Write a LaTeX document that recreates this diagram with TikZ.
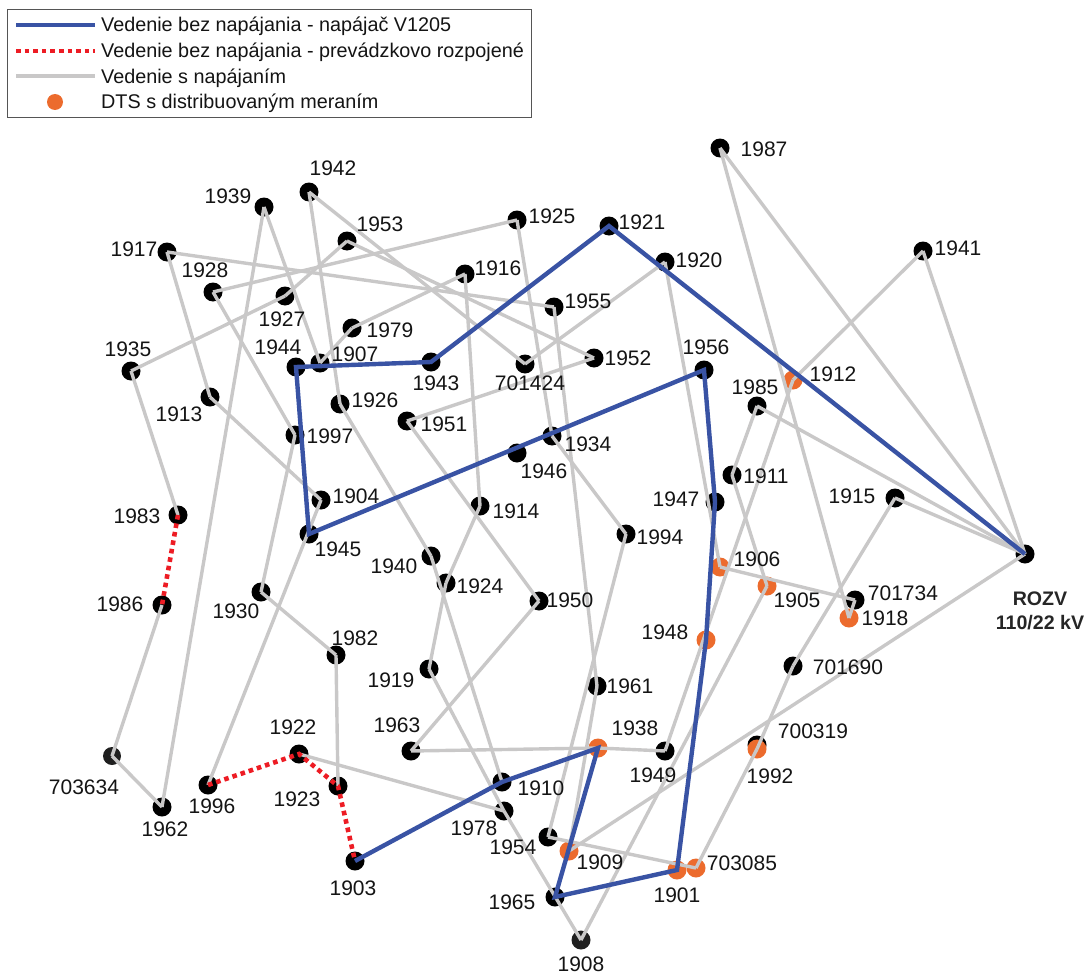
\documentclass[tikz,border=0pt]{standalone}
\usepackage{fontspec}
\setmainfont{Liberation Sans}
\definecolor{feed}{HTML}{3953A4}
\definecolor{open}{HTML}{ED1C24}
\definecolor{live}{HTML}{C9C8C8}
\definecolor{dts}{HTML}{EC6B2D}
\definecolor{frame}{HTML}{555555}
\tikzset{
  dot/.style={circle,fill=black,inner sep=0pt,minimum size=19pt},
  dotdark/.style={dot,fill=black!88},
  dtsdot/.style={dot,fill=dts},
  lab/.style={inner sep=0pt,font=\fontsize{21}{21}\selectfont,text=black!92},
  leg/.style={inner sep=0pt,anchor=west,font=\fontsize{19.8}{20}\selectfont,text=black!92},
  sub/.style={inner sep=0pt,font=\bfseries\fontsize{19.6}{20}\selectfont,text=black!85},
  liveline/.style={draw=live,line width=3.4pt,line join=miter},
  feedline/.style={draw=feed,line width=4.4pt,line join=miter},
  openline/.style={draw=open,line width=4.6pt,dash pattern=on 4.6pt off 4pt},
}
\begin{document}
\begin{tikzpicture}[x=1pt,y=-1pt]
\useasboundingbox (0,0) rectangle (1085,974);
% legend
\node[draw=frame,line width=1.3pt,minimum width=524pt,minimum height=108pt,inner sep=0pt,anchor=north west] (box) at (7,9) {};
\coordinate (k1a) at (16,25); \coordinate (k1b) at (95,25);
\coordinate (k2a) at (16,51); \coordinate (k2b) at (95,51);
\coordinate (k3a) at (16,76); \coordinate (k3b) at (95,76);
\draw[feedline] (k1a) -- (k1b);
\draw[openline] (k2a) -- (k2b);
\draw[liveline] (k3a) -- (k3b);
\node[circle,fill=dts,inner sep=0pt,minimum size=16pt] (k4) at (55,102) {};
\node[leg] (t1) at (101,26) {Vedenie bez napájania - napájač V1205};
\node[leg] (t2) at (101,52) {Vedenie bez napájania - prevádzkovo rozpojené};
\node[leg] (t3) at (101,78) {Vedenie s napájaním};
\node[leg] (t4) at (101,103) {DTS s distribuovaným meraním};
% black nodes
\foreach \id/\x/\y in {1987/720/148,1942/309/192,1939/264/207,1953/347/241,1917/167/252,1928/213/292,1927/285/296,1979/352/328,1907/320/363,1944/296/367,1943/431/362,1935/131/371,1913/210/397,1926/340/404,1951/407/421,1997/295/435,1925/517/220,1921/609/226,1920/665/262,1916/465/274,1955/554/307,1952/594/358,701424/525/364,1956/704/370,1985/757/406,1934/552/436,1946/517/453,1911/732/475,1947/715/502,1915/895/498,1941/923/251,1914/480/506,1904/321/500,1945/309/534,1983/178/515,1994/626/534,1940/431/556,1924/446/583,1930/261/592,rozv/1025/554,701734/855/600,1950/539/601,1986/162/605,1982/336/655,1919/429/669,701690/793/666,1961/597/686,1963/411/751,1922/299/754,1949/665/751,700319/757/745,1910/502/782,1923/338/786,1996/208/785,1962/162/807,1978/504/811,1954/548/837,1903/355/861,1965/555/897}
  \node[dot] (n\id) at (\x,\y) {};
\node[dotdark,minimum size=18pt] (n703634) at (112,756) {};
\node[dotdark] (n1908) at (581,940) {};
% orange nodes
\foreach \id/\x/\y in {1912/793/380,1906/720/567,1905/767/586,1918/849/618,1948/706/640,1938/598/748,1992/757/749,1909/569/851,1901/677/870,703085/696/868}
  \node[dtsdot] (n\id) at (\x,\y) {};
% live lines
\foreach \a/\b in {1942/1926,1926/1940,1940/1910,1942/701424,1939/1962,1939/1907,1953/1952,1953/1927,1927/1935,1917/1955,1917/1913,1913/1904,1928/1925,1928/1997,1997/1930,1907/1979,1979/1916,1935/1983,1986/703634,703634/1962,1930/1982,1982/1923,1904/1996,1925/1934,1934/1994,1994/1954,1955/1961,1961/1909,1920/701424,1920/1906,1952/1951,1951/1950,1916/1914,1914/1924,1924/1919,1919/1978,1978/1908,1950/1963,1963/1938,1938/1949,1949/1912,1912/1941,1941/rozv,1987/rozv,1987/1918,1985/rozv,1985/1911,1911/1905,1905/1908,1906/701734,701734/1918,1915/rozv,1915/701690,701690/1992,1992/703085,rozv/1909,1954/703085,1922/1978}
  \draw[liveline] (n\a.center) -- (n\b.center);
% feeder
\draw[feedline] (n1903.center) -- (n1910.center) -- (n1938.center) -- (n1965.center) -- (n1901.center) -- (n1948.center) -- (n1947.center) -- (n1956.center) -- (n1945.center) -- (n1944.center) -- (n1943.center) -- (n1921.center) -- (nrozv.center);
% open lines
\draw[openline] (n1996.center) -- (n1922.center) -- (n1923.center) -- (n1903.center);
\draw[openline] (n1983.center) -- (n1986.center);
% labels
\foreach \id/\x/\y in {1987/764/149,1942/333/168,1939/228/196,1953/380/224,1917/134/249,1928/205/270,1927/282/319,1979/390/330,1907/355/354,1944/278/347,1943/436/383,1935/128/349,1913/179/414,1926/375/400,1951/444/424,1997/330/436,1925/552/216,1921/642/222,1920/699/260,1916/498/268,1955/588/301,1952/628/358,701424/530/383,1956/706/347,1912/833/374,1985/755/387,1934/588/444,1946/544/471,1911/766/476,1947/676/499,1915/852/496,1941/958/248,1914/516/511,1904/356/496,1945/338/549,1983/137/516,1994/660/537,1906/757/559,1940/394/566,1924/480/586,1905/797/600,1930/236/611,701734/903/593,1918/885/618,1950/570/600,1986/120/604,1982/355/638,1948/665/632,1919/391/680,701690/848/667,1961/630/686,1938/635/728,1963/397/725,1922/293/727,703634/84/787,1949/653/775,700319/813/731,1992/770/776,1910/541/788,1923/297/799,1996/212/806,1962/165/829,1978/474/828,1954/513/847,1909/600/862,1903/353/888,1901/677/895,703085/742/863,1965/512/902,1908/581/964}
  \node[lab] (l\id) at (\x,\y) {\id};
\node[sub] (lrozv) at (1040,599) {ROZV};
\node[sub] (lkv) at (1040,623) {110/22 kV};
\end{tikzpicture}
\end{document}
